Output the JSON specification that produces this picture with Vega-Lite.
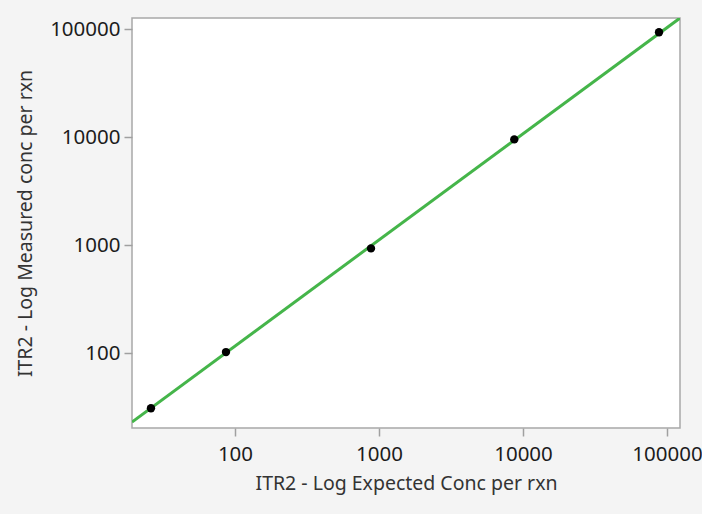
{
  "$schema": "https://vega.github.io/schema/vega-lite/v6.json",
  "width": 548,
  "height": 410,
  "autosize": "none",
  "padding": {"left": 132, "top": 18, "right": 22, "bottom": 86},
  "background": "#f4f4f4",
  "config": {
    "view": {"fill": "white", "stroke": "#a8a8a8", "strokeWidth": 1.5},
    "font": "Noto Sans",
    "axis": {
      "domain": false,
      "grid": false,
      "tickColor": "#a0a0a0",
      "tickSize": 8,
      "tickWidth": 1.5,
      "labelFont": "Noto Sans",
      "labelFontSize": 20.5,
      "labelColor": "#1c1c1c",
      "titleFont": "Noto Sans",
      "titleFontSize": 19.5,
      "titleFontWeight": "normal",
      "titleColor": "#333333"
    }
  },
  "datasets": {
    "pts": [
      {"expected": 26.1, "measured": 30.8},
      {"expected": 86.6, "measured": 102},
      {"expected": 880, "measured": 930},
      {"expected": 8700, "measured": 9500},
      {"expected": 88000, "measured": 93200}
    ],
    "fit": [
      {"expected": 19.27, "measured": 22.96},
      {"expected": 123100, "measured": 126400}
    ]
  },
  "layer": [
    {
      "data": {"name": "fit"},
      "mark": {"type": "line", "color": "#45b54a", "strokeWidth": 3, "clip": true},
      "encoding": {
        "x": {"field": "expected", "type": "quantitative", "scale": {"type": "log", "domain": [19.27, 123100], "nice": false}, "axis": {"values": [100, 1000, 10000, 100000], "format": "d", "title": "ITR2 - Log Expected Conc per rxn", "labelPadding": 8, "titlePadding": 10}},
        "y": {"field": "measured", "type": "quantitative", "scale": {"type": "log", "domain": [20.21, 126434], "nice": false}, "axis": {"values": [100, 1000, 10000, 100000], "format": "d", "title": "ITR2 - Log Measured conc per rxn", "labelPadding": 4, "titlePadding": 14}}
      }
    },
    {
      "data": {"name": "pts"},
      "mark": {"type": "point", "filled": true, "color": "black", "size": 70, "opacity": 1},
      "encoding": {
        "x": {"field": "expected", "type": "quantitative"},
        "y": {"field": "measured", "type": "quantitative"}
      }
    }
  ]
}
